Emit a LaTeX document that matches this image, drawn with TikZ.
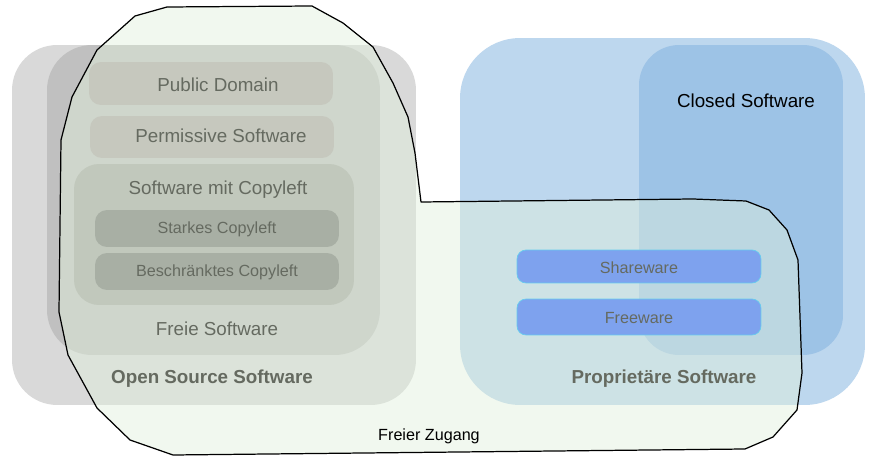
\documentclass[tikz,border=0pt]{standalone}
\usepackage{fontspec}
\setmainfont{Liberation Sans}
\definecolor{ossgray}{HTML}{D9D9D9}
\definecolor{freegray}{HTML}{C0C0C0}
\definecolor{pdgray}{HTML}{C6C8BE}
\definecolor{clgray}{HTML}{C1C8BC}
\definecolor{subgray}{HTML}{A8AFA4}
\definecolor{propblue}{HTML}{BDD7EE}
\definecolor{closedblue}{HTML}{9DC3E6}
\definecolor{swblue}{HTML}{7EA2EE}
\definecolor{swborder}{HTML}{66CCEE}
\definecolor{zugang}{RGB}{225,240,220}
\definecolor{txtgray}{HTML}{656A60}
\tikzset{
  area/.style={rectangle, draw=none, inner sep=0pt, outer sep=0pt},
  big/.style={font=\fontsize{10.7}{12}\selectfont, inner sep=0pt},
  small/.style={font=\fontsize{9.2}{11}\selectfont, inner sep=0pt},
  bold/.style={font=\fontsize{10.7}{12}\selectfont\bfseries, inner sep=0pt},
}
\begin{document}
\begin{tikzpicture}[x=0.02cm,y=-0.02cm]
\useasboundingbox (0,0) rectangle (873,459);
% big areas
\node[area, fill=ossgray, rounded corners=0.9cm, minimum width=8.08cm, minimum height=7.2cm] (oss) at (214,225) {};
\node[area, fill=freegray, rounded corners=0.9cm, minimum width=6.66cm, minimum height=6.2cm] (free) at (213.5,200) {};
\node[area, fill=propblue, rounded corners=1.2cm, minimum width=8.1cm, minimum height=7.34cm] (prop) at (662.5,221.5) {};
\node[area, fill=closedblue, rounded corners=0.8cm, minimum width=4.08cm, minimum height=6.2cm] (closed) at (741,200) {};
% Freier Zugang region
\draw[line width=0.7pt, fill=zugang, fill opacity=0.46, line join=round]
  (167,7) -- (312,6) -- (343,23) -- (373,47) -- (393,83) -- (408,117) -- (415,153) -- (421,202)
  -- (693,199) -- (746,201) -- (769,210) -- (787,230) -- (798,260) -- (802,373) -- (797,410)
  -- (773,437) -- (745,449) -- (173,455) -- (130,440) -- (97,408) -- (68,355) -- (59,312)
  -- (61,140) -- (72,97) -- (97,50) -- (135,16) -- cycle;
% inner boxes
\node[area, fill=pdgray, rounded corners=0.24cm, minimum width=4.88cm, minimum height=0.86cm] (pd) at (211,83.5) {};
\node[area, fill=pdgray, rounded corners=0.24cm, minimum width=4.88cm, minimum height=0.84cm] (perm) at (212,137) {};
\node[area, fill=clgray, rounded corners=0.5cm, minimum width=5.6cm, minimum height=2.82cm] (copyleft) at (214,234.5) {};
\node[area, fill=subgray, rounded corners=0.24cm, minimum width=4.88cm, minimum height=0.74cm] (strong) at (217,228.5) {};
\node[area, fill=subgray, rounded corners=0.24cm, minimum width=4.88cm, minimum height=0.74cm] (limited) at (217,271.5) {};
\node[area, fill=swblue, draw=swborder, line width=0.4pt, rounded corners=0.18cm, minimum width=4.88cm, minimum height=0.66cm] (share) at (639,266.5) {};
\node[area, fill=swblue, draw=swborder, line width=0.4pt, rounded corners=0.18cm, minimum width=4.88cm, minimum height=0.72cm] (freew) at (639,317) {};
% texts
\node[big, text=txtgray] (tpd) at (218,85) {Public Domain};
\node[big, text=txtgray] (tperm) at (221,136) {Permissive Software};
\node[big, text=txtgray] (tcl) at (218,190) {Software mit Copyleft};
\node[small, text=txtgray] (tstrong) at (217,229) {Starkes Copyleft};
\node[small, text=txtgray] (tlim) at (217,272) {Beschränktes Copyleft};
\node[big, text=txtgray] (tfree) at (217,329) {Freie Software};
\node[bold, text=txtgray] (toss) at (212,378.5) {Open Source Software};
\node[big, text=black] (tclosed) at (746,101) {Closed Software};
\node[small, text=txtgray] (tshare) at (639,268) {Shareware};
\node[small, text=txtgray] (tfreew) at (639,318) {Freeware};
\node[bold, text=txtgray] (tprop) at (664,378.5) {Proprietäre Software};
\node[small, text=black] (tzug) at (429,436) {Freier Zugang};
\end{tikzpicture}
\end{document}
